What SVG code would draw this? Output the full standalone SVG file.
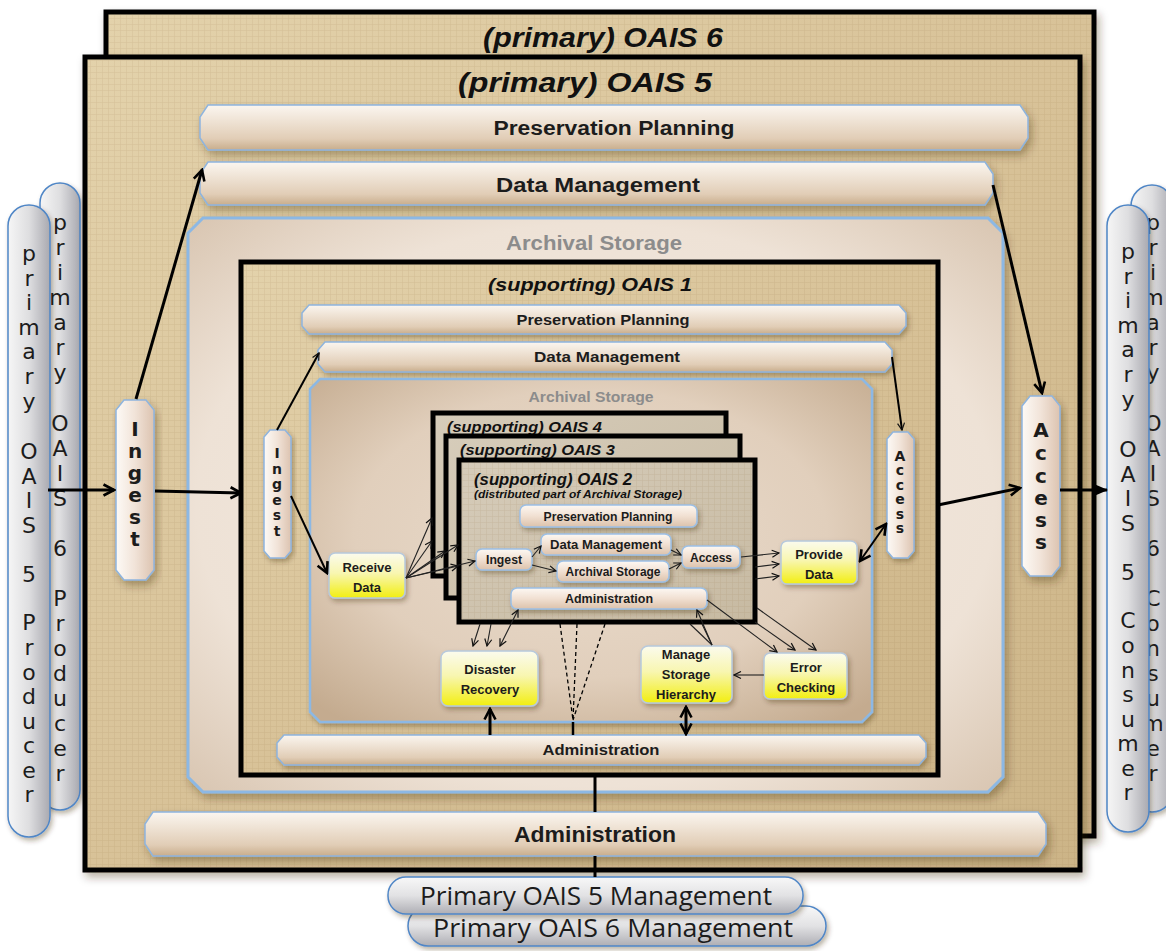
<svg xmlns="http://www.w3.org/2000/svg" width="1166" height="951" viewBox="0 0 1166 951">
<defs>
  <linearGradient id="tan" x1="0" y1="0" x2="1" y2="1">
    <stop offset="0" stop-color="#e3d2ab"/>
    <stop offset="0.5" stop-color="#d8c298"/>
    <stop offset="1" stop-color="#ccb487"/>
  </linearGradient>
  <pattern id="weave" width="6" height="6" patternUnits="userSpaceOnUse">
    <path d="M0,0.5 H6 M0.5,0 V6" stroke="#8a7040" stroke-width="0.6" opacity="0.15"/>
  </pattern>
  <radialGradient id="asBig" cx="0.5" cy="0.5" r="0.7">
    <stop offset="0" stop-color="#f4ebe2"/>
    <stop offset="0.7" stop-color="#eee2d6"/>
    <stop offset="1" stop-color="#d9c6b2"/>
  </radialGradient>
  <radialGradient id="asIn" cx="0.5" cy="0.45" r="0.7">
    <stop offset="0" stop-color="#eadccd"/>
    <stop offset="0.6" stop-color="#e1cfbc"/>
    <stop offset="1" stop-color="#c4ab8f"/>
  </radialGradient>
  <linearGradient id="grey2" x1="0" y1="0" x2="1" y2="1">
    <stop offset="0" stop-color="#d6ccba"/>
    <stop offset="1" stop-color="#c7baa2"/>
  </linearGradient>
  <linearGradient id="bar" x1="0" y1="0" x2="0" y2="1">
    <stop offset="0" stop-color="#fbf6f0"/>
    <stop offset="0.35" stop-color="#efe3d5"/>
    <stop offset="0.75" stop-color="#e1cdb6"/>
    <stop offset="1" stop-color="#c8ad8c"/>
  </linearGradient>
  <linearGradient id="vbar" x1="0" y1="0" x2="1" y2="0">
    <stop offset="0" stop-color="#fdfaf6"/>
    <stop offset="0.5" stop-color="#f1e3d8"/>
    <stop offset="1" stop-color="#dcc3b0"/>
  </linearGradient>
  <linearGradient id="pill" x1="0" y1="0" x2="0" y2="1">
    <stop offset="0" stop-color="#fdf8f3"/>
    <stop offset="0.5" stop-color="#f1e0d2"/>
    <stop offset="1" stop-color="#dcc2ab"/>
  </linearGradient>
  <linearGradient id="yel" x1="0" y1="0" x2="0" y2="1">
    <stop offset="0" stop-color="#fbfbee"/>
    <stop offset="0.45" stop-color="#f8f6b0"/>
    <stop offset="1" stop-color="#f2ee10"/>
  </linearGradient>
  <linearGradient id="greyV" x1="0" y1="0" x2="1" y2="0">
    <stop offset="0" stop-color="#f6f6f6"/>
    <stop offset="0.5" stop-color="#dedee0"/>
    <stop offset="1" stop-color="#a9a9b0"/>
  </linearGradient>
  <linearGradient id="greyH" x1="0" y1="0" x2="0" y2="1">
    <stop offset="0" stop-color="#f8f8f8"/>
    <stop offset="0.5" stop-color="#e2e2e4"/>
    <stop offset="1" stop-color="#aeaeb4"/>
  </linearGradient>
  <filter id="sh" x="-10%" y="-20%" width="130%" height="160%">
    <feDropShadow dx="3" dy="5" stdDeviation="4" flood-color="#3a2a10" flood-opacity="0.35"/>
  </filter>
  <filter id="shs" x="-10%" y="-20%" width="130%" height="160%">
    <feDropShadow dx="2" dy="3" stdDeviation="2.5" flood-color="#3a2a10" flood-opacity="0.35"/>
  </filter>
  <marker id="ah" viewBox="0 0 14 14" refX="12" refY="7" markerWidth="14" markerHeight="14" markerUnits="userSpaceOnUse" orient="auto-start-reverse">
    <path d="M1.5,1.5 L12,7 L1.5,12.5" fill="none" stroke="#000" stroke-width="2.6"/>
  </marker>
  <marker id="ahs" viewBox="0 0 9 9" refX="8" refY="4.5" markerWidth="9" markerHeight="9" markerUnits="userSpaceOnUse" orient="auto-start-reverse">
    <path d="M1,1 L8,4.5 L1,8" fill="none" stroke="#111" stroke-width="1.2"/>
  </marker>
  <marker id="ahf" viewBox="0 0 14 14" refX="13" refY="7" markerWidth="14" markerHeight="14" markerUnits="userSpaceOnUse" orient="auto">
    <path d="M0,1 L14,7 L0,13 z" fill="#000"/>
  </marker>
  <style>
    .frame{fill:url(#tan);stroke:#000;stroke-width:5}
    .weave{fill:url(#weave);stroke:none}
    .bar{fill:url(#bar);stroke:#8eb4de;stroke-width:1.5}
    .vbar{fill:url(#vbar);stroke:#8eb4de;stroke-width:1.5}
    .pill{fill:url(#pill);stroke:#9cc0e6;stroke-width:1.5}
    .ybox{fill:url(#yel);stroke:#b7c9dc;stroke-width:1.5}
    .gpv{fill:url(#greyV);stroke:#4f86c6;stroke-width:1.5}
    .gph{fill:url(#greyH);stroke:#4f86c6;stroke-width:1.5}
    .t{font-family:"Liberation Sans",Arial,sans-serif;font-weight:bold;fill:#1c1c1c;text-anchor:middle}
    .ti{font-family:"Liberation Sans",Arial,sans-serif;font-weight:bold;font-style:italic;fill:#111}
    .grey{fill:#8c8c8c}
    .vt{font-family:"DejaVu Sans",Verdana,sans-serif;fill:#1c1c1c;text-anchor:middle;font-size:22px}
    .vtb{font-family:"DejaVu Sans",Verdana,sans-serif;font-weight:bold;fill:#1c1c1c;text-anchor:middle}
    .mg{font-family:"Open Sans","Liberation Sans",sans-serif;fill:#1c1c1c;text-anchor:middle;font-size:25px}
    .c{fill:none;stroke:#000}
    .thick{stroke-width:3}
    .thin{stroke-width:1.1;stroke:#222}
    .dash{stroke-width:1.3;stroke-dasharray:4 3}
  </style>
</defs>

<rect width="1166" height="951" fill="#ffffff"/>

<!-- producers -->
<g id="producer6">
  <rect class="gpv" x="40" y="183" width="40" height="627" rx="20" filter="url(#shs)"/>
  <text class="vt"><tspan x="60" y="230">p</tspan><tspan x="60" y="255">r</tspan><tspan x="60" y="280">i</tspan><tspan x="60" y="305">m</tspan><tspan x="60" y="330">a</tspan><tspan x="60" y="355">r</tspan><tspan x="60" y="380">y</tspan><tspan x="60" y="431">O</tspan><tspan x="60" y="456">A</tspan><tspan x="60" y="481">I</tspan><tspan x="60" y="506">S</tspan><tspan x="60" y="556">6</tspan><tspan x="60" y="606">P</tspan><tspan x="60" y="631">r</tspan><tspan x="60" y="656">o</tspan><tspan x="60" y="681">d</tspan><tspan x="60" y="706">u</tspan><tspan x="60" y="731">c</tspan><tspan x="60" y="756">e</tspan><tspan x="60" y="781">r</tspan></text>
</g>
<g id="producer5">
  <rect class="gpv" x="8" y="205" width="42" height="632" rx="21" filter="url(#shs)"/>
  <text class="vt"><tspan x="29" y="261">p</tspan><tspan x="29" y="286">r</tspan><tspan x="29" y="310">i</tspan><tspan x="29" y="335">m</tspan><tspan x="29" y="359">a</tspan><tspan x="29" y="384">r</tspan><tspan x="29" y="409">y</tspan><tspan x="29" y="459">O</tspan><tspan x="29" y="484">A</tspan><tspan x="29" y="508">I</tspan><tspan x="29" y="533">S</tspan><tspan x="29" y="582">5</tspan><tspan x="29" y="630">P</tspan><tspan x="29" y="655">r</tspan><tspan x="29" y="680">o</tspan><tspan x="29" y="704">d</tspan><tspan x="29" y="729">u</tspan><tspan x="29" y="753">c</tspan><tspan x="29" y="778">e</tspan><tspan x="29" y="802">r</tspan></text>
</g>

<!-- consumers -->
<g id="consumer6">
  <rect class="gpv" x="1131" y="185" width="42" height="627" rx="21" filter="url(#shs)"/>
  <text class="vt"><tspan x="1153" y="230">p</tspan><tspan x="1153" y="255">r</tspan><tspan x="1153" y="280">i</tspan><tspan x="1153" y="305">m</tspan><tspan x="1153" y="330">a</tspan><tspan x="1153" y="355">r</tspan><tspan x="1153" y="380">y</tspan><tspan x="1153" y="431">O</tspan><tspan x="1153" y="456">A</tspan><tspan x="1153" y="481">I</tspan><tspan x="1153" y="506">S</tspan><tspan x="1153" y="556">6</tspan><tspan x="1153" y="606">C</tspan><tspan x="1153" y="631">o</tspan><tspan x="1153" y="656">n</tspan><tspan x="1153" y="681">s</tspan><tspan x="1153" y="706">u</tspan><tspan x="1153" y="731">m</tspan><tspan x="1153" y="756">e</tspan><tspan x="1153" y="781">r</tspan></text>
</g>
<g id="consumer5">
  <rect class="gpv" x="1107" y="205" width="42" height="627" rx="21" filter="url(#shs)"/>
  <text class="vt"><tspan x="1128" y="259">p</tspan><tspan x="1128" y="284">r</tspan><tspan x="1128" y="308">i</tspan><tspan x="1128" y="333">m</tspan><tspan x="1128" y="357">a</tspan><tspan x="1128" y="382">r</tspan><tspan x="1128" y="407">y</tspan><tspan x="1128" y="457">O</tspan><tspan x="1128" y="482">A</tspan><tspan x="1128" y="506">I</tspan><tspan x="1128" y="531">S</tspan><tspan x="1128" y="580">5</tspan><tspan x="1128" y="628">C</tspan><tspan x="1128" y="653">o</tspan><tspan x="1128" y="678">n</tspan><tspan x="1128" y="702">s</tspan><tspan x="1128" y="727">u</tspan><tspan x="1128" y="751">m</tspan><tspan x="1128" y="776">e</tspan><tspan x="1128" y="800">r</tspan></text>
</g>

<!-- primary OAIS 6 frame -->
<g id="oais6">
  <rect class="frame" x="106" y="12" width="988" height="824" filter="url(#sh)"/>
  <rect class="weave" x="108" y="14" width="984" height="820"/>
  <text class="ti" x="603" y="47" font-size="27" text-anchor="middle" textLength="240" lengthAdjust="spacingAndGlyphs">(primary)  OAIS 6</text>
</g>

<!-- primary OAIS 5 frame -->
<g id="oais5">
  <rect class="frame" x="85" y="57" width="995" height="813" filter="url(#sh)"/>
  <rect class="weave" x="87" y="59" width="991" height="809"/>
  <text class="ti" x="585" y="92" font-size="27" text-anchor="middle" textLength="254" lengthAdjust="spacingAndGlyphs">(primary)  OAIS  5</text>
</g>

<g id="pp5">
  <polygon class="bar" filter="url(#sh)" points="208,105 1020,105 1028,117 1028,138 1020,150 208,150 200,138 200,117"/>
  <text class="t" x="614" y="135" font-size="20" textLength="241" lengthAdjust="spacingAndGlyphs">Preservation Planning</text>
</g>
<g id="dm5">
  <polygon class="bar" filter="url(#sh)" points="208,162 985,162 993,174 993,193 985,205 208,205 200,193 200,174"/>
  <text class="t" x="598" y="192" font-size="20" textLength="204" lengthAdjust="spacingAndGlyphs">Data Management</text>
</g>

<g id="as5">
  <polygon fill="url(#asBig)" stroke="#8cb8e4" stroke-width="3" filter="url(#sh)" points="203,218 988,218 1003,233 1003,777 988,792 203,792 188,777 188,233"/>
  <text class="t grey" x="594" y="250" font-size="20" textLength="176" lengthAdjust="spacingAndGlyphs">Archival Storage</text>
</g>

<g id="admin5">
  <polygon class="bar" filter="url(#sh)" points="153,812 1038,812 1046,824 1046,844 1038,856 153,856 145,844 145,824"/>
  <text class="t" x="595" y="842" font-size="22" textLength="162" lengthAdjust="spacingAndGlyphs">Administration</text>
</g>

<g id="ingest5">
  <polygon class="vbar" filter="url(#sh)" points="124,400 146,400 154,410 154,570 146,580 124,580 116,570 116,410"/>
  <text class="vtb" font-size="20"><tspan x="135" y="436">I</tspan><tspan x="135" y="458">n</tspan><tspan x="135" y="480">g</tspan><tspan x="135" y="502">e</tspan><tspan x="135" y="524">s</tspan><tspan x="135" y="546">t</tspan></text>
</g>
<g id="access5">
  <polygon class="vbar" filter="url(#sh)" points="1030,396 1052,396 1060,406 1060,566 1052,576 1030,576 1022,566 1022,406"/>
  <text class="vtb" font-size="20"><tspan x="1041" y="437">A</tspan><tspan x="1041" y="460">c</tspan><tspan x="1041" y="483">c</tspan><tspan x="1041" y="505">e</tspan><tspan x="1041" y="527">s</tspan><tspan x="1041" y="549">s</tspan></text>
</g>

<!-- supporting OAIS 1 -->
<g id="oais1">
  <rect class="frame" x="241" y="262" width="697" height="513"/>
  <rect class="weave" x="243" y="264" width="693" height="509"/>
  <text class="ti" x="590" y="291" font-size="19" text-anchor="middle" textLength="204" lengthAdjust="spacingAndGlyphs">(supporting) OAIS 1</text>
</g>
<g id="pp1">
  <polygon class="bar" filter="url(#shs)" points="309,305 899,305 906,313 906,326 899,334 309,334 302,326 302,313"/>
  <text class="t" x="603" y="325" font-size="15" textLength="173" lengthAdjust="spacingAndGlyphs">Preservation Planning</text>
</g>
<g id="dm1">
  <polygon class="bar" filter="url(#shs)" points="325,342 885,342 892,350 892,364 885,372 325,372 318,364 318,350"/>
  <text class="t" x="607" y="362" font-size="15" textLength="146" lengthAdjust="spacingAndGlyphs">Data Management</text>
</g>
<g id="as1">
  <polygon fill="url(#asIn)" stroke="#8cb8e4" stroke-width="2.5" filter="url(#shs)" points="320,379 862,379 872,389 872,712 862,722 320,722 310,712 310,389"/>
  <text class="t grey" x="591" y="402" font-size="14" textLength="125" lengthAdjust="spacingAndGlyphs">Archival Storage</text>
</g>
<g id="admin1">
  <polygon class="bar" filter="url(#shs)" points="284,735 919,735 926,743 926,757 919,765 284,765 277,757 277,743"/>
  <text class="t" x="601" y="755" font-size="15" textLength="117" lengthAdjust="spacingAndGlyphs">Administration</text>
</g>
<g id="ingest1">
  <polygon class="vbar" filter="url(#shs)" points="270,430 285,430 291,437 291,551 285,558 270,558 264,551 264,437"/>
  <text class="vtb" font-size="14"><tspan x="277" y="458">I</tspan><tspan x="277" y="474">n</tspan><tspan x="277" y="489">g</tspan><tspan x="277" y="505">e</tspan><tspan x="277" y="520">s</tspan><tspan x="277" y="536">t</tspan></text>
</g>
<g id="access1">
  <polygon class="vbar" filter="url(#shs)" points="893,432 908,432 914,439 914,551 908,558 893,558 887,551 887,439"/>
  <text class="vtb" font-size="14"><tspan x="900" y="461">A</tspan><tspan x="900" y="475">c</tspan><tspan x="900" y="490">c</tspan><tspan x="900" y="504">e</tspan><tspan x="900" y="519">s</tspan><tspan x="900" y="533">s</tspan></text>
</g>

<!-- supporting OAIS 4, 3, 2 -->
<g id="oais4">
  <rect x="433" y="413" width="293" height="163" fill="url(#grey2)" stroke="#000" stroke-width="5"/>
  <text class="ti" x="447" y="432" font-size="15" textLength="155" lengthAdjust="spacingAndGlyphs">(supporting) OAIS 4</text>
</g>
<g id="oais3">
  <rect x="446" y="436" width="294" height="162" fill="url(#grey2)" stroke="#000" stroke-width="5"/>
  <text class="ti" x="460" y="455" font-size="15" textLength="155" lengthAdjust="spacingAndGlyphs">(supporting) OAIS 3</text>
</g>
<g id="oais2">
  <rect x="459" y="460" width="296" height="162" fill="url(#grey2)" stroke="#000" stroke-width="5"/>
  <rect class="weave" x="461" y="462" width="292" height="158"/>
  <text class="ti" x="474" y="485" font-size="16" textLength="158" lengthAdjust="spacingAndGlyphs">(supporting) OAIS 2</text>
  <text class="ti" x="474" y="498" font-size="10.5" textLength="208" lengthAdjust="spacingAndGlyphs">(distributed part of Archival Storage)</text>
</g>
<g id="pp2">
  <rect class="pill" filter="url(#shs)" x="520" y="505" width="177" height="22" rx="6"/>
  <text class="t" x="608" y="521" font-size="12" textLength="129" lengthAdjust="spacingAndGlyphs">Preservation Planning</text>
</g>
<g id="dm2">
  <rect class="pill" filter="url(#shs)" x="541" y="534" width="130" height="21" rx="6"/>
  <text class="t" x="606" y="549" font-size="12" textLength="112" lengthAdjust="spacingAndGlyphs">Data Management</text>
</g>
<g id="as2">
  <rect class="pill" filter="url(#shs)" x="557" y="561" width="112" height="21" rx="6"/>
  <text class="t" x="613" y="576" font-size="12" textLength="95" lengthAdjust="spacingAndGlyphs">Archival Storage</text>
</g>
<g id="ingest2">
  <rect class="pill" filter="url(#shs)" x="476" y="549" width="56" height="21" rx="6"/>
  <text class="t" x="504" y="564" font-size="12" textLength="36" lengthAdjust="spacingAndGlyphs">Ingest</text>
</g>
<g id="access2">
  <rect class="pill" filter="url(#shs)" x="682" y="546" width="58" height="22" rx="6"/>
  <text class="t" x="711" y="562" font-size="12" textLength="42" lengthAdjust="spacingAndGlyphs">Access</text>
</g>
<g id="admin2">
  <rect class="pill" filter="url(#shs)" x="511" y="588" width="196" height="21" rx="6"/>
  <text class="t" x="609" y="603" font-size="12" textLength="88" lengthAdjust="spacingAndGlyphs">Administration</text>
</g>

<!-- functions -->
<g id="receive">
  <rect class="ybox" filter="url(#shs)" x="329" y="553" width="76" height="45" rx="6"/>
  <text class="t" x="367" y="572" font-size="13">Receive</text>
  <text class="t" x="367" y="592" font-size="13">Data</text>
</g>
<g id="provide">
  <rect class="ybox" filter="url(#shs)" x="781" y="541" width="76" height="43" rx="6"/>
  <text class="t" x="819" y="559" font-size="13">Provide</text>
  <text class="t" x="819" y="579" font-size="13">Data</text>
</g>
<g id="disaster">
  <rect class="ybox" filter="url(#shs)" x="441" y="651" width="97" height="55" rx="7"/>
  <text class="t" x="490" y="674" font-size="13">Disaster</text>
  <text class="t" x="490" y="694" font-size="13">Recovery</text>
</g>
<g id="storage">
  <rect class="ybox" filter="url(#shs)" x="641" y="646" width="91" height="57" rx="7"/>
  <text class="t" x="686" y="659" font-size="13">Manage</text>
  <text class="t" x="686" y="679" font-size="13">Storage</text>
  <text class="t" x="686" y="699" font-size="13">Hierarchy</text>
</g>
<g id="error">
  <rect class="ybox" filter="url(#shs)" x="764" y="653" width="83" height="46" rx="6"/>
  <text class="t" x="806" y="672" font-size="13">Error</text>
  <text class="t" x="806" y="692" font-size="13">Checking</text>
</g>

<!-- management -->
<g id="mgmt6">
  <rect class="gph" filter="url(#shs)" x="408" y="906" width="418" height="40" rx="20"/>
  <text class="mg" x="613" y="937" textLength="360" lengthAdjust="spacingAndGlyphs">Primary OAIS 6 Management</text>
</g>
<g id="mgmt5">
  <rect class="gph" filter="url(#shs)" x="388" y="877" width="415" height="37" rx="18"/>
  <text class="mg" x="596" y="905" textLength="352" lengthAdjust="spacingAndGlyphs">Primary OAIS 5 Management</text>
</g>

<!-- connectors -->
<g id="connectors">
  <line class="c thick" x1="48" y1="490" x2="114" y2="490" marker-end="url(#ah)"/>
  <line class="c thick" x1="136" y1="399" x2="202" y2="170" marker-end="url(#ah)"/>
  <line class="c thick" x1="155" y1="491" x2="241" y2="493" marker-end="url(#ah)"/>
  <line class="c thick" x1="993" y1="185" x2="1042" y2="393" marker-end="url(#ah)"/>
  <line class="c thick" x1="938" y1="505" x2="1020" y2="488" marker-end="url(#ah)"/>
  <line class="c thick" x1="1060" y1="490" x2="1107" y2="490" marker-end="url(#ahf)"/>
  <line class="c thick" x1="595" y1="775" x2="595" y2="812"/>
  <line class="c thick" x1="595" y1="856" x2="595" y2="877"/>

  <line class="c" stroke-width="2" x1="277" y1="430" x2="319" y2="353" marker-end="url(#ahs)"/>
  <line class="c" stroke-width="2" x1="892" y1="357" x2="902" y2="430" marker-end="url(#ahs)"/>
  <line class="c" stroke-width="2" x1="291" y1="496" x2="327" y2="573" marker-end="url(#ah)"/>
  <line class="c" stroke-width="2" x1="860" y1="561" x2="886" y2="524" marker-start="url(#ah)" marker-end="url(#ah)"/>

  <line class="c thin" x1="406" y1="578" x2="432" y2="518" marker-end="url(#ahs)"/>
  <line class="c thin" x1="406" y1="578" x2="432" y2="541" marker-end="url(#ahs)"/>
  <line class="c thin" x1="406" y1="578" x2="445" y2="551" marker-end="url(#ahs)"/>
  <line class="c thin" x1="406" y1="578" x2="458" y2="545" marker-end="url(#ahs)"/>
  <line class="c thin" x1="406" y1="578" x2="475" y2="561" marker-end="url(#ahs)"/>
  <line class="c thin" x1="406" y1="578" x2="458" y2="566" marker-end="url(#ahs)"/>

  <line class="c thin" x1="532" y1="557" x2="541" y2="546" marker-end="url(#ahs)"/>
  <line class="c thin" x1="532" y1="565" x2="556" y2="571" marker-end="url(#ahs)"/>
  <line class="c thin" x1="671" y1="550" x2="681" y2="555" marker-end="url(#ahs)"/>
  <line class="c thin" x1="669" y1="569" x2="681" y2="563" marker-end="url(#ahs)"/>

  <line class="c thin" x1="741" y1="557" x2="779" y2="553" marker-end="url(#ahs)"/>
  <line class="c thin" x1="755" y1="567" x2="779" y2="564" marker-end="url(#ahs)"/>
  <line class="c thin" x1="755" y1="579" x2="779" y2="576" marker-end="url(#ahs)"/>

  <line class="c thin" x1="707" y1="600" x2="777" y2="652" marker-end="url(#ahs)"/>
  <line class="c thin" x1="755" y1="622" x2="795" y2="650" marker-end="url(#ahs)"/>
  <line class="c thin" x1="757" y1="608" x2="816" y2="650" marker-end="url(#ahs)"/>
  <line class="c thin" x1="764" y1="675" x2="734" y2="675" marker-end="url(#ahs)"/>

  <line class="c thin" x1="712" y1="645" x2="697" y2="610" marker-end="url(#ahs)"/>
  <line class="c thin" x1="712" y1="645" x2="702" y2="624"/>
  <line class="c thin" x1="712" y1="645" x2="690" y2="624"/>

  <line class="c thin" x1="480" y1="624" x2="473" y2="646" marker-end="url(#ahs)"/>
  <line class="c thin" x1="491" y1="624" x2="487" y2="646" marker-end="url(#ahs)"/>
  <line class="c thin" x1="500" y1="646" x2="518" y2="610" marker-start="url(#ahs)" marker-end="url(#ahs)"/>

  <line class="c dash" x1="560" y1="624" x2="573" y2="720"/>
  <line class="c dash" x1="577" y1="624" x2="573" y2="720"/>
  <line class="c dash" x1="605" y1="624" x2="573" y2="720"/>
  <line class="c" stroke-width="2.5" x1="573" y1="722" x2="573" y2="735"/>

  <line class="c thick" x1="490" y1="735" x2="490" y2="709" marker-end="url(#ah)"/>
  <line class="c thick" x1="686" y1="707" x2="686" y2="734" marker-start="url(#ah)" marker-end="url(#ah)"/>
</g>
</svg>
